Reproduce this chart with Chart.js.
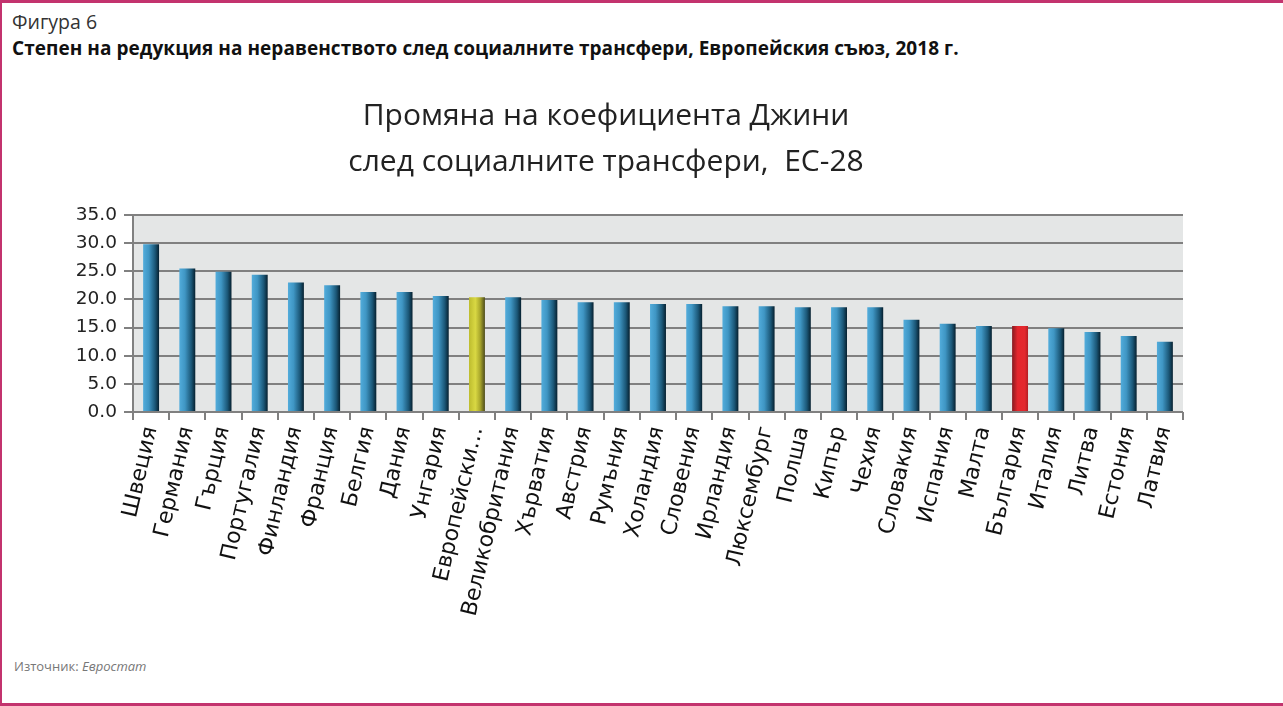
<!DOCTYPE html>
<html lang="bg">
<head>
<meta charset="utf-8">
<script src="https://cdn.jsdelivr.net/npm/chart.js@4"></script>
<style>
    body { margin: 0; background: #fff; }
    #ramka {
        position: relative; width: 1281px; height: 700px;
        border-top: 3px solid #c3336e; border-left: 2px solid #c3336e; border-bottom: 3px solid #c3336e;
        font-family: "Open Sans", sans-serif; overflow: hidden;
    }
    #figura { position: absolute; left: 10px; top: 5px; font-size: 19.5px; color: #333; }
    #zaglavie { position: absolute; left: 10px; top: 32px; font-size: 19px; font-weight: bold; color: #111; letter-spacing: 0.05px; }
    #iztochnik { position: absolute; left: 12px; top: 654px; font-size: 13px; color: #777; }
    #platno { position: absolute; left: 0; top: 77px; width: 1281px; height: 570px; }
</style>
</head>
<body>
<div id="ramka">
    <div id="figura">Фигура 6</div>
    <div id="zaglavie">Степен на редукция на неравенството след социалните трансфери, Европейския съюз, 2018 г.</div>
    <div id="platno"><canvas id="graficoDzhini"></canvas></div>
    <div id="iztochnik">Източник: <i>Евростат</i></div>
</div>
<script>
const darzhavi = ["Швеция", "Германия", "Гърция", "Португалия", "Финландия", "Франция", "Белгия", "Дания",
    "Унгария", "Европейски…", "Великобритания", "Хърватия", "Австрия", "Румъния", "Холандия", "Словения",
    "Ирландия", "Люксембург", "Полша", "Кипър", "Чехия", "Словакия", "Испания", "Малта", "България",
    "Италия", "Литва", "Естония", "Латвия"];
const promyana = [29.8, 25.5, 24.9, 24.4, 23.0, 22.5, 21.3, 21.3, 20.6, 20.4, 20.4, 19.9, 19.5, 19.5,
    19.2, 19.2, 18.8, 18.8, 18.6, 18.6, 18.6, 16.4, 15.7, 15.3, 15.3, 14.9, 14.2, 13.5, 12.5];
const etiketiY = [0, 5, 10, 15, 20, 25, 30, 35];

const indexES = darzhavi.indexOf("Европейски…");
const indexBG = darzhavi.indexOf("България");
const shirinaStalb = 0.44;

function cvyatStalb(context) {
    const chart = context.chart;
    const x = chart.scales.x;
    const i = context.dataIndex;
    if (!chart.chartArea || !x || !x.width) return '#3a8bb5';
    const centar = x.getPixelForValue(i);
    const w = (x.width / darzhavi.length) * shirinaStalb;
    const g = chart.ctx.createLinearGradient(centar - w / 2, 0, centar + w / 2, 0);
    if (i === indexES) {
        g.addColorStop(0, '#bdbc2e');
        g.addColorStop(0.4, '#d9d843');
        g.addColorStop(0.7, '#a9a72c');
        g.addColorStop(1, '#4d4c1c');
    } else if (i === indexBG) {
        g.addColorStop(0, '#861a20');
        g.addColorStop(0.35, '#e5262d');
        g.addColorStop(0.8, '#e3282e');
        g.addColorStop(1, '#b21e24');
    } else {
        g.addColorStop(0, '#52acdb');
        g.addColorStop(0.35, '#3f96c4');
        g.addColorStop(0.75, '#1b5777');
        g.addColorStop(1, '#06202f');
    }
    return g;
}

// fon na oblastta na grafikata
const fonPlugin = {
    id: 'fon',
    beforeDraw(chart) {
        const a = chart.chartArea;
        chart.ctx.save();
        chart.ctx.fillStyle = '#e4e6e6';
        chart.ctx.fillRect(a.left, a.top, a.right - a.left, a.bottom - a.top);
        chart.ctx.restore();
    }
};

new Chart(document.getElementById('graficoDzhini'), {
    type: 'bar',
    data: {
        labels: darzhavi,
        datasets: [{
            data: promyana,
            backgroundColor: cvyatStalb,
            barPercentage: shirinaStalb,
            categoryPercentage: 1
        }]
    },
    options: {
        responsive: true,
        maintainAspectRatio: false,
        animation: false,
        layout: { padding: { left: 0, right: 73, bottom: 0, top: 0 } },
        scales: {
            y: {
                min: 0,
                max: 35,
                afterBuildTicks: axis => { axis.ticks = etiketiY.map(v => ({ value: v })); },
                afterFit: axis => { axis.width = 131; },
                ticks: {
                    color: '#222',
                    padding: 7,
                    font: { family: 'DejaVu Sans', size: 18.5 },
                    callback: v => Number(v).toFixed(1)
                },
                grid: { color: '#808080', lineWidth: 2, tickLength: 9 },
                border: { color: '#808080', width: 2 }
            },
            // prazna os otdyasno, samo za myasto
            dyasno: {
                position: 'right',
                afterFit: axis => { axis.width = 27; },
                ticks: { display: false },
                grid: { display: false },
                border: { display: false }
            },
            x: {
                afterFit: axis => { axis.height = 238; },
                ticks: {
                    autoSkip: false,
                    minRotation: 77,
                    maxRotation: 77,
                    color: '#111',
                    padding: 4,
                    font: { family: 'DejaVu Sans', size: 22 }
                },
                grid: { drawOnChartArea: false, color: '#808080', lineWidth: 2, tickLength: 8 },
                border: { display: false }
            }
        },
        plugins: {
            legend: { display: false },
            tooltip: { enabled: false },
            title: {
                display: true,
                text: ["Промяна на коефициента Джини", "след социалните трансфери,  ЕС-28"],
                color: '#222',
                font: { family: 'Open Sans', size: 30, weight: 'normal', lineHeight: 1.55 },
                padding: { top: 13, bottom: 29 }
            }
        }
    },
    plugins: [fonPlugin]
});
</script>
</body>
</html>
